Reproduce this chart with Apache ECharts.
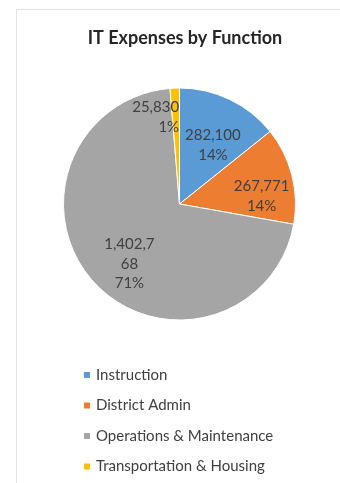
<!DOCTYPE html>
<html>
<head>
<meta charset="utf-8">
<script src="https://cdn.jsdelivr.net/npm/echarts@6/dist/echarts.min.js"></script>
<style>
  html, body { margin: 0; padding: 0; background: #fff; }
  #chart { width: 340px; height: 483px; }
</style>
</head>
<body>
<div id="chart"></div>
<script>
// IT expenses broken down by function
const categories = ['Instruction', 'District Admin', 'Operations & Maintenance', 'Transportation & Housing'];
const values = [282100, 267771, 1402768, 25830];
const colors = ['#5B9BD5', '#ED7D31', '#A5A5A5', '#FFC000'];

// label placement per slice; the thin last slice is too narrow for an
// inside label, so it uses an outside label pulled back over the pie
const labelPlacement = [
  { position: 'inside', offset: [7, -4] },
  { position: 'inside', offset: [23, 7] },
  { position: 'inside', offset: [-5, 19], width: 52, overflow: 'breakAll' },
  { position: 'outside', align: 'center', offset: [40, 44] }
];

const FONT = 'Lato, "Liberation Sans", sans-serif';

const fmt = v => v.toLocaleString('en-US');

const chart = echarts.init(document.getElementById('chart'), null, { renderer: 'canvas' });

chart.setOption({
  animation: false,
  backgroundColor: '#ffffff',
  title: {
    text: 'IT Expenses by Function',
    left: 180,
    textAlign: 'center',
    top: 24,
    textStyle: { fontFamily: FONT, fontSize: 18, fontWeight: 'bold', color: '#262626' }
  },
  graphic: [{
    type: 'rect',
    silent: true,
    shape: { x: 16.5, y: 9.5, width: 400, height: 500 },
    style: { fill: 'none', stroke: '#e3e3e3', lineWidth: 1 }
  }],
  legend: {
    orient: 'vertical',
    left: 82,
    top: 367,
    padding: 0,
    icon: 'rect',
    itemWidth: 8,
    itemHeight: 8,
    itemGap: 14.5,
    data: categories,
    textStyle: { fontFamily: FONT, fontSize: 15, color: '#404040', lineHeight: 16 }
  },
  series: [{
    type: 'pie',
    center: [179.5, 204],
    radius: [0, 116],
    startAngle: 90,
    clockwise: true,
    percentPrecision: 0,
    avoidLabelOverlap: false,
    itemStyle: { borderColor: '#ffffff', borderWidth: 1 },
    label: {
      show: true,
      position: 'inside',
      fontFamily: FONT,
      fontSize: 15,
      lineHeight: 19.5,
      color: '#404040',
      align: 'center',
      formatter: p => fmt(p.value) + '\n' + p.percent + '%'
    },
    labelLine: { show: false },
    emphasis: { disabled: true },
    data: categories.map((name, i) => ({
      name,
      value: values[i],
      itemStyle: { color: colors[i] },
      label: labelPlacement[i]
    }))
  }]
});
</script>
</body>
</html>
